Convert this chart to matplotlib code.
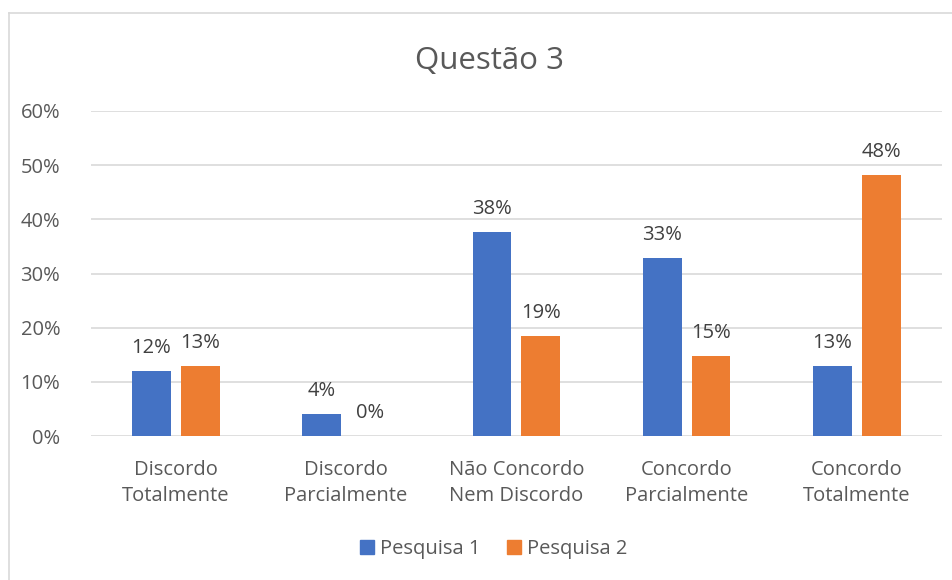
import matplotlib
matplotlib.use("Agg")
import matplotlib.pyplot as plt
from matplotlib.lines import Line2D
import numpy as np

categories = ["Discordo\nTotalmente", "Discordo\nParcialmente", "Não Concordo\nNem Discordo",
              "Concordo\nParcialmente", "Concordo\nTotalmente"]
series_names = ["Pesquisa 1", "Pesquisa 2"]
pesquisa1 = [12.0, 4.0, 37.7, 32.8, 13.0]
pesquisa2 = [13.0, 0.0, 18.5, 14.8, 48.1]
label1 = ["12%", "4%", "38%", "33%", "13%"]
label2 = ["13%", "0%", "19%", "15%", "48%"]
yticks = [0, 10, 20, 30, 40, 50, 60]
ytick_labels = ["0%", "10%", "20%", "30%", "40%", "50%", "60%"]

BLUE = "#4472C4"
ORANGE = "#ED7D31"
TEXT = "#595959"
GRID = "#D9D9D9"
FONT = "Open Sans"
FS = 14.5

plt.rcParams["font.family"] = [FONT, "DejaVu Sans"]

W, H = 953, 580
fig = plt.figure(figsize=(W / 100, H / 100), dpi=100)
fig.patch.set_facecolor("white")

# outer chart border (top and left visible)
fig.add_artist(Line2D([9.5 / W, 1.0], [1 - 12.5 / H, 1 - 12.5 / H], transform=fig.transFigure,
                      color="#D9D9D9", lw=1.2))
fig.add_artist(Line2D([9.5 / W, 9.5 / W], [0, 1 - 12.5 / H], transform=fig.transFigure,
                      color="#D9D9D9", lw=1.2))

left, right = 90.7 / W, 942 / W
bottom, top = 1 - 436 / H, 1 - 111 / H
ax = fig.add_axes([left, bottom, right - left, top - bottom])

x = np.arange(len(categories))
bw = 0.228
off = 0.143
b1 = ax.bar(x - off, pesquisa1, bw, color=BLUE, zorder=3)
b2 = ax.bar(x + off, pesquisa2, bw, color=ORANGE, zorder=3)

for rects, labels in ((b1, label1), (b2, label2)):
    for r, lab in zip(rects, labels):
        ax.annotate(lab, (r.get_x() + r.get_width() / 2, r.get_height()),
                    xytext=(0, 13), textcoords="offset points", ha="center", va="baseline",
                    fontsize=FS, color="#404040")

ax.set_xlim(-0.5, len(categories) - 0.5)
ax.set_ylim(0, 60)
ax.set_yticks(yticks)
ax.set_yticklabels(ytick_labels)
ax.set_xticks(x)
ax.set_xticklabels(categories, linespacing=1.45)
ax.tick_params(axis="y", length=0, pad=22, labelsize=FS, labelcolor=TEXT)
ax.tick_params(axis="x", length=0, pad=17, labelsize=FS, labelcolor=TEXT)
for s in ax.spines.values():
    s.set_visible(False)
ax.grid(axis="y", color=GRID, lw=1.2, zorder=0)
ax.set_axisbelow(True)

fig.text(490 / W, 1 - 61 / H, "Questão 3", ha="center", va="center", fontsize=22.5, color=TEXT)

handles = [plt.Rectangle((0, 0), 1, 1, color=BLUE), plt.Rectangle((0, 0), 1, 1, color=ORANGE)]
leg = fig.legend(handles, series_names, loc="center", bbox_to_anchor=(494 / W, 1 - 549 / H),
                 ncol=2, frameon=False, fontsize=FS, handlelength=0.7, handleheight=0.7,
                 handletextpad=0.3, columnspacing=1.3)
for t in leg.get_texts():
    t.set_color(TEXT)

fig.savefig("out.png", dpi=100, facecolor="white")
